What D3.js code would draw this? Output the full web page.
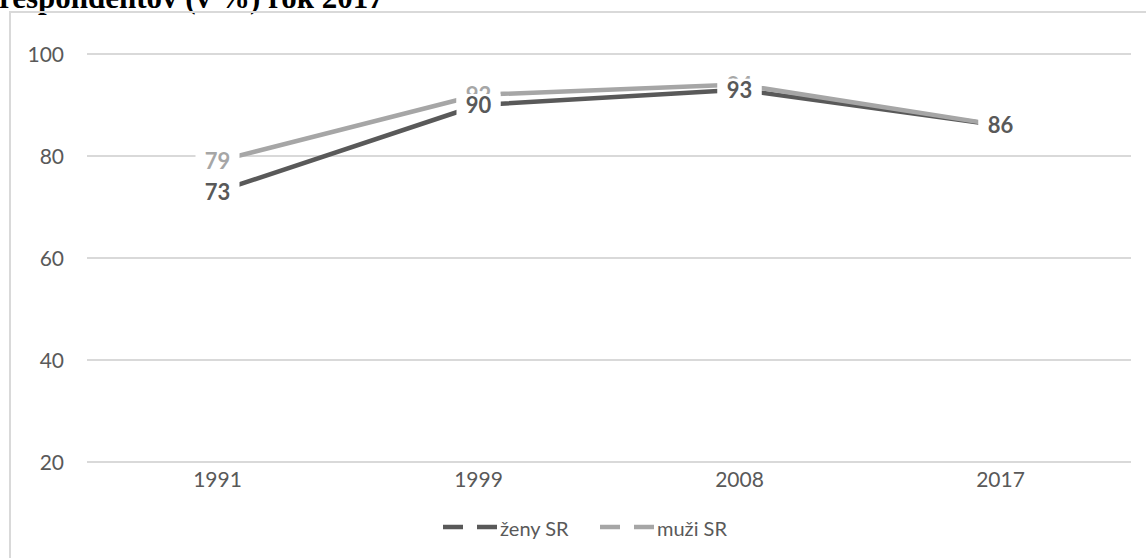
<!DOCTYPE html>
<html>
<head>
<meta charset="utf-8">
<script src="https://cdn.jsdelivr.net/npm/d3@7"></script>
<style>
  html, body { margin: 0; padding: 0; background: #fff; }
  svg { display: block; }
</style>
</head>
<body>
<svg id="chart" width="1146" height="558"></svg>
<script>
// Survey years and shares of respondents (%)
const years = ["1991", "1999", "2008", "2017"];
const zenyValues = [73, 90, 93, 86];
const muziValues = [79, 92, 94, 86];
const yTicks = [20, 40, 60, 80, 100];
const seriesNames = ["ženy SR", "muži SR"];
const titleText = "respondentov (v %) rok 2017";

const series = [
  { name: seriesNames[0], values: zenyValues, color: "#595959" },
  { name: seriesNames[1], values: muziValues, color: "#a6a6a6" }
];

const svg = d3.select("#chart");
const W = 1146, H = 558;
const plot = { left: 87, right: 1131, top: 54, bottom: 462 };
const font = "Lato, 'Open Sans', sans-serif";

svg.append("rect").attr("width", W).attr("height", H).attr("fill", "#fff");

// Heading line above the chart frame (partly outside the view)
svg.append("text")
  .attr("x", -1).attr("y", 8)
  .attr("font-family", "'Liberation Serif', 'Times New Roman', serif")
  .attr("font-weight", "bold")
  .attr("font-size", 31)
  .attr("fill", "#000")
  .text(titleText);

// Chart frame
svg.append("path")
  .attr("d", `M10,${H + 5} V12 H${W + 5}`)
  .attr("fill", "none")
  .attr("stroke", "#d9d9d9")
  .attr("stroke-width", 2);

const x = d3.scaleBand().domain(years).range([plot.left, plot.right]);
const y = d3.scaleLinear().domain([20, 100]).range([plot.bottom, plot.top]);
const cx = d => x(d) + x.bandwidth() / 2;

// Horizontal gridlines
svg.append("g").selectAll("line").data(yTicks).join("line")
  .attr("x1", plot.left).attr("x2", plot.right)
  .attr("y1", d => y(d)).attr("y2", d => y(d))
  .attr("stroke", "#d9d9d9").attr("stroke-width", 2);

// Y axis tick labels
const yAxis = d3.axisLeft(y).tickValues(yTicks).tickSize(0).tickPadding(0);
const gy = svg.append("g").attr("transform", "translate(64,0)").call(yAxis);
gy.select(".domain").remove();
gy.selectAll("text")
  .attr("font-family", font).attr("font-size", 21).attr("fill", "#595959")
  .attr("dy", "0.35em");

// X axis category labels
const xAxis = d3.axisBottom(x).tickSize(0).tickPadding(0);
const gx = svg.append("g").attr("transform", "translate(0,472)").call(xAxis);
gx.select(".domain").remove();
gx.selectAll("text")
  .attr("font-family", font).attr("font-size", 21).attr("fill", "#595959")
  .attr("dy", "0.71em");

// Series lines
const line = d3.line().x((d, i) => cx(years[i])).y(d => y(d));
svg.append("g").selectAll("path").data(series).join("path")
  .attr("d", s => line(s.values))
  .attr("fill", "none")
  .attr("stroke", s => s.color)
  .attr("stroke-width", 4.5)
  .attr("stroke-linejoin", "round");

// Value labels on white boxes, women's labels drawn last
const labelOrder = [series[1], series[0]];
labelOrder.forEach(s => {
  const g = svg.append("g");
  s.values.forEach((v, i) => {
    const px = cx(years[i]), py = y(v);
    g.append("rect")
      .attr("x", px - 22).attr("y", py - 11)
      .attr("width", 44).attr("height", 22)
      .attr("fill", "#fff");
    g.append("text")
      .attr("x", px).attr("y", py)
      .attr("dy", "0.36em")
      .attr("text-anchor", "middle")
      .attr("font-family", font).attr("font-weight", "bold")
      .attr("font-size", 22)
      .attr("fill", s.color)
      .text(v);
  });
});

// Legend
const legendItems = [
  { s: series[0], x: 443 },
  { s: series[1], x: 600 }
];
const lg = svg.append("g");
legendItems.forEach(({ s, x: lx }) => {
  lg.append("line")
    .attr("x1", lx).attr("x2", lx + 54)
    .attr("y1", 527).attr("y2", 527)
    .attr("stroke", s.color).attr("stroke-width", 4.5)
    .attr("stroke-dasharray", "20,14");
  lg.append("text")
    .attr("x", lx + 57).attr("y", 536)
    .attr("font-family", font).attr("font-size", 20)
    .attr("fill", "#595959")
    .text(s.name);
});
</script>
</body>
</html>
